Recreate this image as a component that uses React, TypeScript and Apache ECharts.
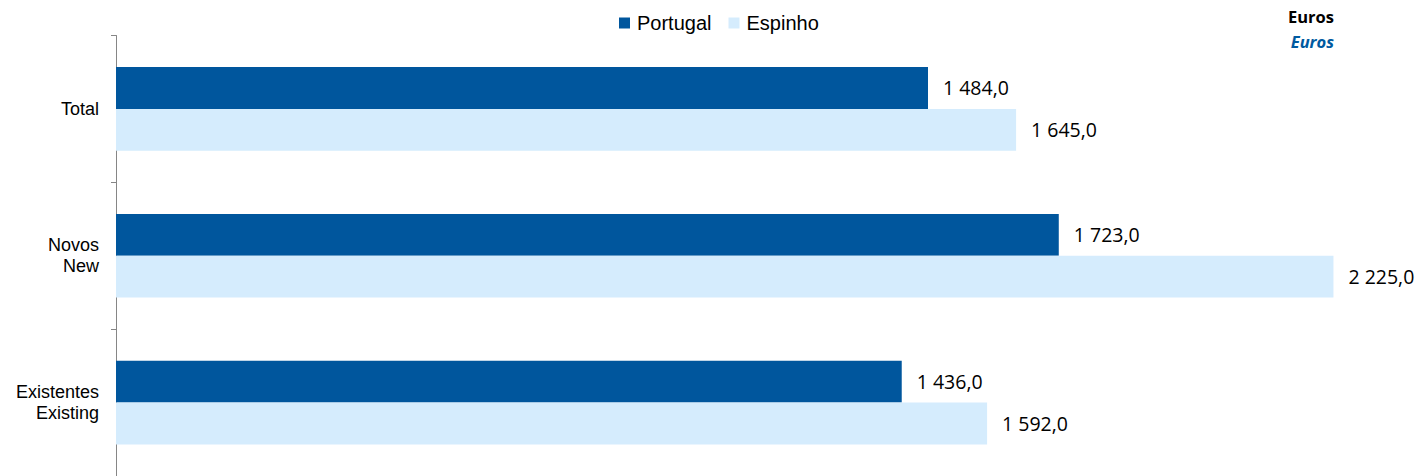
import React, { useEffect, useRef } from "react";
import * as echarts from "echarts";

const categories = ["Total", "Novos\nNew", "Existentes\nExisting"];
const portugal = [1484.0, 1723.0, 1436.0];
const espinho = [1645.0, 2225.0, 1592.0];
const seriesNames = ["Portugal", "Espinho"];
const unitLabel = "Euros";

const fmt = (v: number) => {
  const [i, d] = v.toFixed(1).split(".");
  return i.replace(/\B(?=(\d{3})+(?!\d))/g, " ") + "," + d;
};

export default function App() {
  const ref = useRef<HTMLDivElement>(null);
  useEffect(() => {
    if (!ref.current) return;
    const chart = echarts.init(ref.current, undefined, { renderer: "svg" });
    const label = {
      show: true,
      position: "right",
      distance: 15,
      color: "#000",
      fontFamily: "Open Sans",
      fontSize: 19.5,
      formatter: (p: any) => fmt(p.value),
    };
    chart.setOption({
      animation: false,
      backgroundColor: "#fff",
      legend: {
        top: 8,
        left: 614,
        itemWidth: 11,
        itemHeight: 11,
        itemGap: 17,
        icon: "rect",
        textStyle: { fontFamily: "Liberation Sans", fontSize: 20, color: "#000", padding: [0, 0, 0, 2] },
        data: seriesNames,
      },
      grid: { left: 116, top: 35.5, bottom: -0.5, right: 1424 - 116 - 2300 * (812 / 1484) },
      xAxis: {
        type: "value",
        min: 0,
        max: 2300,
        show: false,
        splitLine: { show: false },
      },
      yAxis: {
        type: "category",
        inverse: true,
        data: categories,
        axisLine: { show: true, lineStyle: { color: "#868686", width: 1 } },
        axisTick: { show: true, length: 5, lineStyle: { color: "#868686" } },
        axisLabel: {
          margin: 17,
          fontFamily: "Liberation Sans",
          fontSize: 18,
          color: "#000",
          lineHeight: 21,
          align: "right",
        },
      },
      series: [
        {
          name: seriesNames[0],
          type: "bar",
          data: portugal,
          itemStyle: { color: "#00569D" },
          barGap: "0%",
          barCategoryGap: "43%",
          label,
        },
        {
          name: seriesNames[1],
          type: "bar",
          data: espinho,
          itemStyle: { color: "#D5ECFD" },
          barGap: "0%",
          barCategoryGap: "43%",
          label,
        },
      ],
      graphic: [
        {
          type: "text",
          right: 1424 - 1334,
          top: 8,
          style: { text: unitLabel, fontFamily: "Open Sans", fontWeight: "bold", fontSize: 16.5, fill: "#000" },
        },
        {
          type: "text",
          right: 1424 - 1334,
          top: 33,
          style: { text: unitLabel, fontFamily: "Open Sans", fontWeight: "bold", fontStyle: "italic", fontSize: 16.5, fill: "#005AA0" },
        },
      ],
    });
    return () => chart.dispose();
  }, []);
  return <div ref={ref} style={{ position: "fixed", left: 0, top: 0, width: 1424, height: 476 }} />;
}
